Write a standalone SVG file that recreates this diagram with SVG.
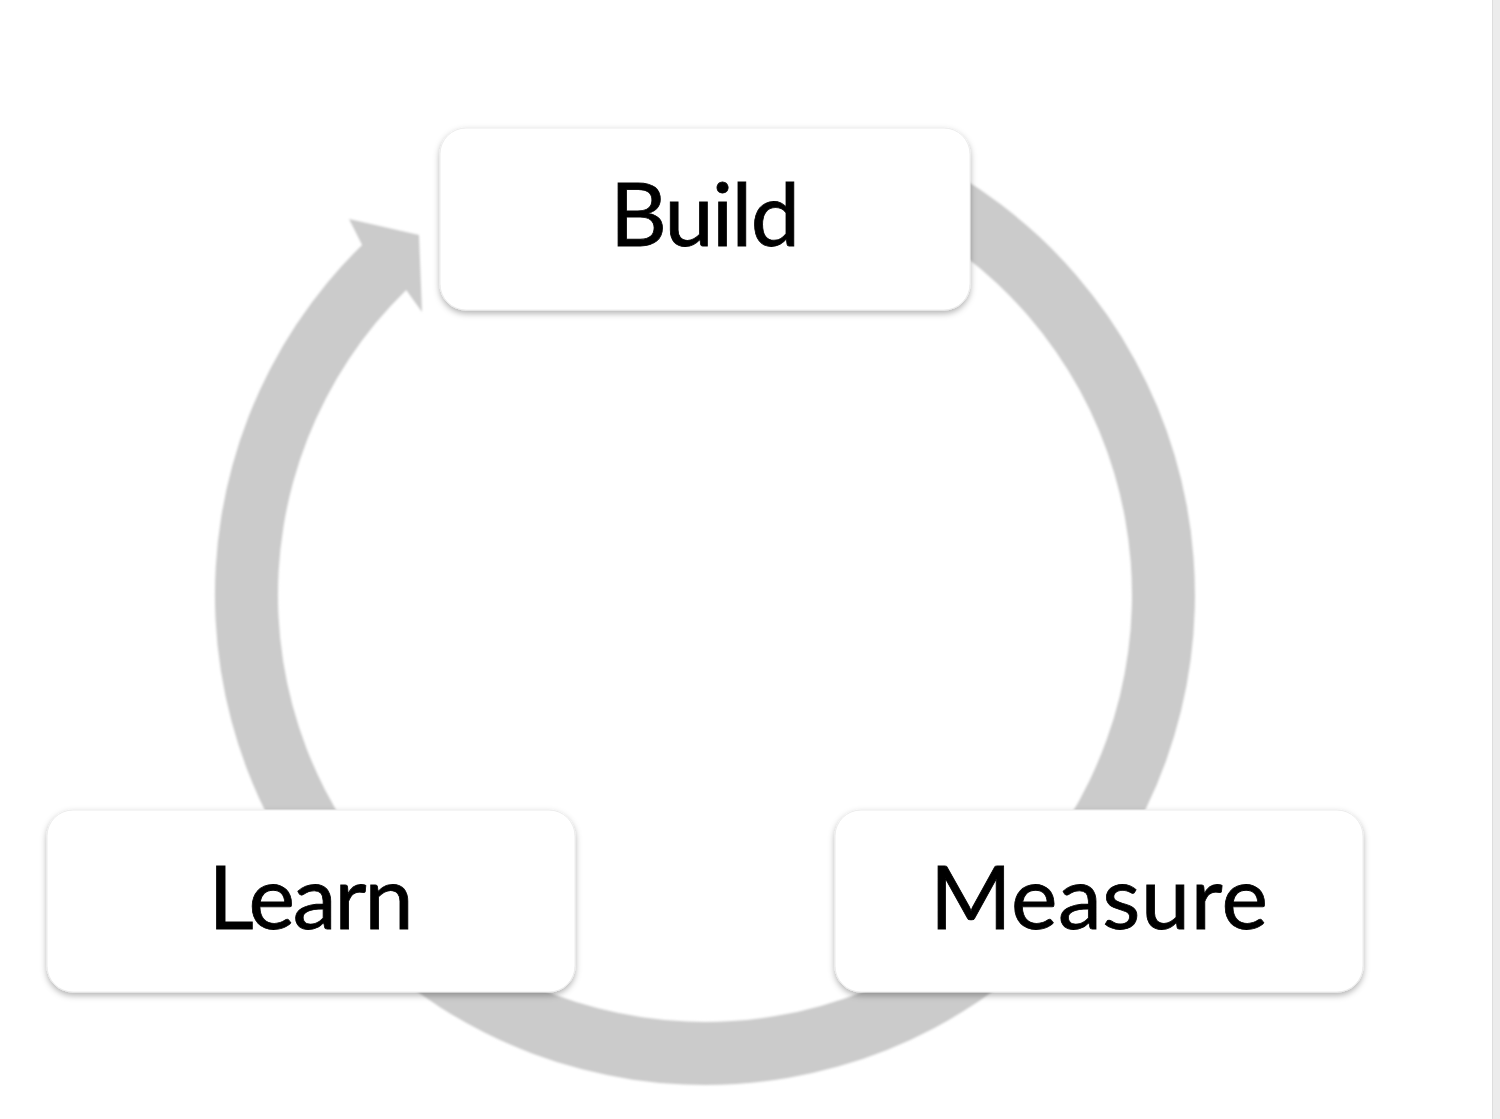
<svg xmlns="http://www.w3.org/2000/svg" width="1500" height="1119" viewBox="0 0 1500 1119">
  <defs>
    <filter id="soft" x="-5%" y="-5%" width="110%" height="110%">
      <feGaussianBlur stdDeviation="1"/>
    </filter>
    <filter id="shadow" x="-10%" y="-20%" width="120%" height="140%">
      <feDropShadow dx="0" dy="3" stdDeviation="3" flood-color="#000" flood-opacity="0.3"/>
    </filter>
  </defs>
  <style>
    .ring { fill: #cbcbcb; }
    .box { fill: #ffffff; stroke: #ececec; stroke-width: 1; }
    .label { font-family: Lato, "Open Sans", "Liberation Sans", sans-serif; font-size: 88px; fill: #000000; text-anchor: middle; stroke: #000000; stroke-width: 0.8; }
  </style>
  <rect x="0" y="0" width="1500" height="1119" fill="#ffffff"/>
  <rect x="1492" y="0" width="8" height="1119" fill="#ececec"/>
  <line x1="1492.5" y1="0" x2="1492.5" y2="1119" stroke="#dddddd" stroke-width="1"/>
  <g id="connectors">
    <path class="ring" filter="url(#soft)" d="M 912.1,150.9 A 490 490 0 1 1 362.1,244.9 L 349,219 L 419,235 L 422,312 L 406.2,289.9 A 427 427 0 1 0 885.5,208 Z"/>
  </g>
  <g id="build">
    <rect class="box" filter="url(#shadow)" x="440" y="128" width="530" height="182" rx="26" ry="26"/>
    <text class="label" x="705" y="246" textLength="190" lengthAdjust="spacing">Build</text>
  </g>
  <g id="learn">
    <rect class="box" filter="url(#shadow)" x="47" y="810" width="528" height="182" rx="26" ry="26"/>
    <text class="label" x="311" y="929" textLength="205" lengthAdjust="spacing">Learn</text>
  </g>
  <g id="measure">
    <rect class="box" filter="url(#shadow)" x="835" y="810" width="528" height="182" rx="26" ry="26"/>
    <text class="label" x="1099" y="929" textLength="338" lengthAdjust="spacing">Measure</text>
  </g>
</svg>
